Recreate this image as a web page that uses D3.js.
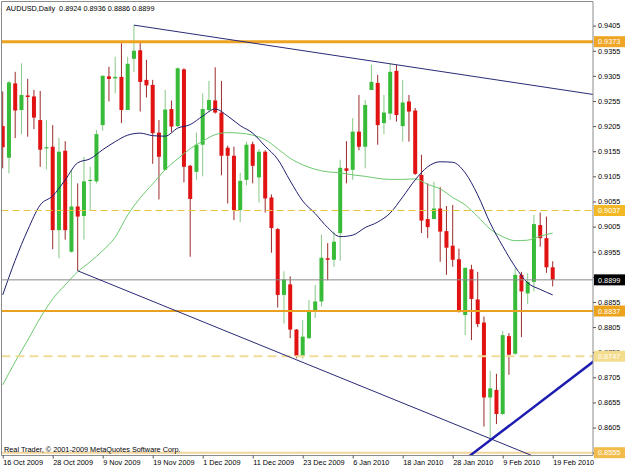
<!DOCTYPE html>
<html>
<head>
<meta charset="utf-8">
<script src="https://cdn.jsdelivr.net/npm/d3@7"></script>
<style>
  body { margin: 0; background: #fff; }
  svg { display: block; font-family: "Liberation Sans", Arial, sans-serif; }
</style>
</head>
<body>
<svg id="chart" width="625" height="469"></svg>
<script>
// AUDUSD daily bars, 16 Oct 2009 .. 19 Feb 2010
const opens  = [0.9205,0.9142,0.9290,0.9237,0.9266,0.9264,0.9217,0.9161,0.9164,0.8998,
                0.9156,0.8955,0.9045,0.9026,0.9096,0.9095,0.9207,0.9304,0.9300,0.9303,
                0.9237,0.9339,0.9356,0.9297,0.9287,0.9192,0.9118,0.9239,0.9205,0.9318,
                0.9126,0.9114,0.9168,0.9237,0.9256,0.9232,0.9162,0.9146,0.9038,0.9098,
                0.9169,0.9103,0.9154,0.9063,0.9000,0.8869,0.8890,0.8800,0.8748,0.8783,
                0.8836,0.8856,0.8942,0.8939,0.8992,0.9121,0.9118,0.9194,0.9164,0.9277,
                0.9291,0.9211,0.9230,0.9315,0.9205,0.9254,0.9236,0.9108,0.9020,0.9020,
                0.9041,0.8996,0.8967,0.8940,0.8829,0.8920,0.8860,0.8814,0.8665,0.8680,
                0.8632,0.8787,0.8752,0.8909,0.8872,0.8895,0.9008,0.8982,0.8924];
const highs  = [0.9274,0.9295,0.9313,0.9330,0.9299,0.9277,0.9275,0.9217,0.9207,0.9182,
                0.9175,0.9118,0.9091,0.9144,0.9124,0.9197,0.9307,0.9323,0.9343,0.9370,
                0.9343,0.9406,0.9371,0.9337,0.9297,0.9217,0.9277,0.9256,0.9322,0.9320,
                0.9128,0.9192,0.9270,0.9295,0.9322,0.9295,0.9166,0.9164,0.9112,0.9174,
                0.9174,0.9159,0.9157,0.9069,0.9002,0.8916,0.8906,0.8801,0.8819,0.8859,
                0.8889,0.8989,0.8972,0.8995,0.9138,0.9175,0.9221,0.9267,0.9257,0.9327,
                0.9307,0.9267,0.9329,0.9327,0.9297,0.9267,0.9241,0.9148,0.9091,0.9094,
                0.9084,0.9046,0.9048,0.8961,0.8923,0.8929,0.8915,0.8826,0.8718,0.8712,
                0.8797,0.8793,0.8922,0.8915,0.8912,0.9028,0.9033,0.9025,0.8936];
const lows   = [0.9121,0.9111,0.9181,0.9189,0.9184,0.9199,0.9124,0.9119,0.8960,0.8942,
                0.8979,0.8953,0.8917,0.8979,0.9038,0.9091,0.9196,0.9254,0.9270,0.9211,
                0.9237,0.9313,0.9234,0.9262,0.9130,0.9059,0.9118,0.9193,0.9203,0.9093,
                0.8945,0.9098,0.9105,0.9234,0.9230,0.9107,0.9051,0.9018,0.9014,0.9087,
                0.9091,0.9053,0.9033,0.8953,0.8844,0.8812,0.8783,0.8743,0.8742,0.8781,
                0.8823,0.8846,0.8898,0.8925,0.8937,0.9091,0.9098,0.9157,0.9121,0.9277,
                0.9168,0.9189,0.9217,0.9214,0.9174,0.9174,0.9108,0.8992,0.8982,0.9020,
                0.8935,0.8909,0.8925,0.8834,0.8789,0.8779,0.8805,0.8607,0.8584,0.8612,
                0.8630,0.8710,0.8750,0.8785,0.8851,0.8876,0.8965,0.8913,0.8886];
const closes = [0.9163,0.9292,0.9236,0.9267,0.9263,0.9222,0.9158,0.9163,0.8998,0.9154,
                0.8998,0.9045,0.9025,0.9095,0.9098,0.9189,0.9305,0.9299,0.9303,0.9237,
                0.9329,0.9355,0.9293,0.9286,0.9191,0.9144,0.9238,0.9204,0.9320,0.9124,
                0.9060,0.9168,0.9239,0.9257,0.9232,0.9146,0.9146,0.9038,0.9096,0.9168,
                0.9126,0.9154,0.9061,0.9002,0.8869,0.8900,0.8800,0.8748,0.8786,0.8839,
                0.8856,0.8943,0.8939,0.8975,0.9122,0.9116,0.9194,0.9164,0.9247,0.9293,
                0.9207,0.9232,0.9313,0.9227,0.9252,0.9234,0.9110,0.9017,0.9004,0.9041,
                0.8995,0.8963,0.8939,0.8835,0.8923,0.8861,0.8811,0.8665,0.8683,0.8632,
                0.8789,0.8750,0.8909,0.8876,0.8895,0.9010,0.8982,0.8924,0.8899];

// moving averages, read every second bar
const maFast = [0.8869,0.8938,0.8998,0.9048,0.9066,0.9098,0.9132,0.9140,0.9158,0.9174,
                0.9187,0.9191,0.9186,0.9185,0.9201,0.9208,0.9225,0.9239,0.9225,0.9206,
                0.9191,0.9165,0.9139,0.9096,0.9056,0.9031,0.9003,0.8985,0.8988,0.9003,
                0.9014,0.9032,0.9064,0.9098,0.9124,0.9134,0.9133,0.9112,0.9068,0.9012,
                0.8966,0.8925,0.8893,0.8880,0.8869];
const maSlow = [0.8690,0.8736,0.8779,0.8823,0.8861,0.8889,0.8915,0.8935,0.8957,0.8984,
                0.9028,0.9062,0.9090,0.9118,0.9140,0.9160,0.9175,0.9188,0.9192,0.9191,
                0.9187,0.9178,0.9160,0.9141,0.9128,0.9119,0.9114,0.9112,0.9108,0.9105,
                0.9101,0.9099,0.9099,0.9100,0.9089,0.9080,0.9063,0.9048,0.9025,0.9000,
                0.8985,0.8977,0.8978,0.8986,0.8992];

// trend lines as [bar, price] pairs
const trendTop   = [[21, 0.9406], [95, 0.9267]];
const trendLower = [[12, 0.8917], [95, 0.8497]];
const trendRise  = [[70, 0.8504], [95, 0.8741]];

// horizontal levels
const levels = [0.9373, 0.9037, 0.8899, 0.8837, 0.8747, 0.8555];

const dateTicks  = [0, 8, 16, 24, 32, 40, 48, 56, 64, 72, 80, 88];
const dateLabels = ["16 Oct 2009", "28 Oct 2009", "9 Nov 2009", "19 Nov 2009", "1 Dec 2009",
                    "11 Dec 2009", "23 Dec 2009", "6 Jan 2010", "18 Jan 2010", "28 Jan 2010",
                    "9 Feb 2010", "19 Feb 2010"];
const priceTicks = [0.9405, 0.9355, 0.9305, 0.9255, 0.9205, 0.9155, 0.9105, 0.9055, 0.9005,
                    0.8955, 0.8905, 0.8855, 0.8805, 0.8755, 0.8705, 0.8655, 0.8605, 0.8555];
// tick labels covered by the level boxes in the picture
const coveredTicks = [0.8905, 0.8555];

const svg = d3.select("#chart");
const plotL = 1.5, plotR = 593, plotT = 1.5, plotB = 455.5;

const x = d3.scaleLinear().domain([0, 88]).range([2.7, 552.7]);
const y = d3.scaleLinear().domain([0.8555, 0.9373]).range([452.7, 41.7]);

svg.append("rect").attr("width", 625).attr("height", 469).attr("fill", "#fff");

svg.append("defs").append("clipPath").attr("id", "plotClip")
  .append("rect")
  .attr("x", plotL).attr("y", plotT)
  .attr("width", plotR - plotL).attr("height", plotB - plotT);

const plot = svg.append("g").attr("clip-path", "url(#plotClip)");

// candles
const bars = d3.range(opens.length).map(i => ({
  i: i, o: opens[i], h: highs[i], l: lows[i], c: closes[i]
}));

const candle = plot.append("g").selectAll("g")
  .data(bars)
  .enter()
  .append("g");

candle.append("line")
  .attr("x1", d => x(d.i)).attr("x2", d => x(d.i))
  .attr("y1", d => y(d.h)).attr("y2", d => y(d.l))
  .attr("stroke", d => d.c >= d.o ? "#86c986" : "#9c2a2a")
  .attr("stroke-width", 1);

candle.append("rect")
  .attr("x", d => x(d.i) - 2)
  .attr("width", 4)
  .attr("y", d => y(Math.max(d.o, d.c)))
  .attr("height", d => Math.max(1.2, Math.abs(y(d.o) - y(d.c))))
  .attr("fill", d => d.c >= d.o ? "#38bb38" : "#e01212");

// moving averages
const maLine = d3.line()
  .x((d, k) => x(k * 2))
  .y(d => y(d))
  .curve(d3.curveMonotoneX);

plot.append("path")
  .attr("d", maLine(maSlow))
  .attr("fill", "none")
  .attr("stroke", "#6cc86c")
  .attr("stroke-width", 1);

plot.append("path")
  .attr("d", maLine(maFast))
  .attr("fill", "none")
  .attr("stroke", "#1f1f6e")
  .attr("stroke-width", 1);

// horizontal levels
const levelStyle = [
  { stroke: "#eea320", width: 3,   dash: null,  box: "#efa526", text: "#fff" },
  { stroke: "#e8c43c", width: 1.2, dash: "7,4", box: "#f3b925", text: "#fff" },
  { stroke: "#8a8a8a", width: 1,   dash: null,  box: "#000",    text: "#fff" },
  { stroke: "#eaa020", width: 2,   dash: null,  box: "#eda21c", text: "#fff" },
  { stroke: "#f0dc96", width: 2,   dash: "9,5", box: "#f3dc8c", text: "#fff" },
  { stroke: "#f2d49a", width: 2,   dash: null,  box: "#f2bc4c", text: "#fff" }
];

plot.append("g").selectAll("line")
  .data(levels)
  .enter()
  .append("line")
  .attr("x1", plotL).attr("x2", plotR)
  .attr("y1", d => y(d)).attr("y2", d => y(d))
  .attr("stroke", (d, k) => levelStyle[k].stroke)
  .attr("stroke-width", (d, k) => levelStyle[k].width)
  .attr("stroke-dasharray", (d, k) => levelStyle[k].dash);

// trend lines
const trendLine = d3.line().x(d => x(d[0])).y(d => y(d[1]));

plot.append("path").attr("d", trendLine(trendTop))
  .attr("fill", "none").attr("stroke", "#2a2a78").attr("stroke-width", 1);
plot.append("path").attr("d", trendLine(trendLower))
  .attr("fill", "none").attr("stroke", "#2a2a78").attr("stroke-width", 1);
plot.append("path").attr("d", trendLine(trendRise))
  .attr("fill", "none").attr("stroke", "#1c1cb0").attr("stroke-width", 2.4);

// frame
svg.append("path")
  .attr("d", `M${plotL},${plotB}V${plotT}H${plotR}V${plotB}Z`)
  .attr("fill", "none")
  .attr("stroke", "#8c8c8c")
  .attr("stroke-width", 1);

// price axis
const fmt = d3.format(".4f");
const yAxis = d3.axisRight(y)
  .tickValues(priceTicks)
  .tickFormat(d => coveredTicks.includes(d) ? "" : fmt(d))
  .tickSize(3)
  .tickPadding(2);

const yg = svg.append("g")
  .attr("transform", `translate(${plotR},0)`)
  .call(yAxis);
yg.select(".domain").remove();
yg.selectAll("line").attr("stroke", "#555");
yg.selectAll("text")
  .attr("font-size", "7.3px")
  .attr("font-family", "Liberation Sans, Arial, sans-serif")
  .attr("fill", "#000");

// level price boxes
const boxes = svg.append("g").selectAll("g")
  .data(levels)
  .enter()
  .append("g")
  .attr("transform", d => `translate(${plotR + 1},${y(d)})`);

boxes.append("rect")
  .attr("x", 0).attr("y", -5.5)
  .attr("width", 31).attr("height", 11)
  .attr("fill", (d, k) => levelStyle[k].box);

boxes.append("text")
  .attr("x", 4).attr("y", 2.7)
  .attr("font-size", "7.3px")
  .attr("fill", (d, k) => levelStyle[k].text)
  .text(d => fmt(d));

// date axis
const xAxis = d3.axisBottom(x)
  .tickValues(dateTicks)
  .tickFormat((d, k) => dateLabels[k])
  .tickSize(3)
  .tickPadding(1.5);

const xg = svg.append("g")
  .attr("transform", `translate(0,${plotB})`)
  .call(xAxis);
xg.select(".domain").remove();
xg.selectAll("line").attr("stroke", "#555");
xg.selectAll("text")
  .attr("text-anchor", "start")
  .attr("x", 0)
  .attr("font-size", "7.3px")
  .attr("font-family", "Liberation Sans, Arial, sans-serif")
  .attr("fill", "#000");

// captions
svg.append("text")
  .attr("x", 6).attr("y", 10.5)
  .attr("font-size", "7.3px")
  .attr("fill", "#000")
  .attr("xml:space", "preserve")
  .text("AUDUSD,Daily  0.8924 0.8936 0.8886 0.8899");

svg.append("text")
  .attr("x", 4).attr("y", 452)
  .attr("font-size", "7.3px")
  .attr("fill", "#000")
  .text("Real Trader, \u00a9 2001-2009 MetaQuotes Software Corp.");
</script>
</body>
</html>
